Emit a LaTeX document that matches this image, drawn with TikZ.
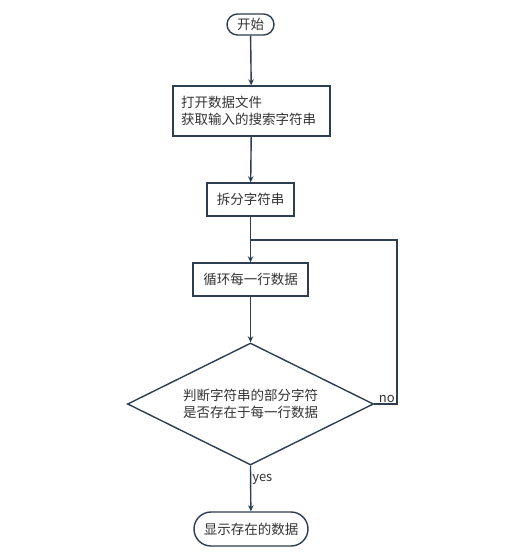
\documentclass[tikz,border=0pt]{standalone}
\usepackage{fontspec}
\setmainfont{Noto Sans CJK SC}
\usetikzlibrary{shapes.geometric,shapes.misc,arrows.meta}
\definecolor{ln}{HTML}{2C3E50}
\definecolor{tx}{HTML}{333333}
\tikzset{
  base/.style={draw=ln, line width=1.4pt, text=tx, font=\fontsize{13.5}{17}\selectfont},
  proc/.style={base, rectangle, inner sep=0pt},
  term/.style={base, rounded rectangle, inner sep=0pt},
  dec/.style={base, diamond, inner sep=0pt},
  txt/.style={text=tx, font=\fontsize{13.5}{17}\selectfont, align=center, inner sep=0pt},
  conn/.style={draw=ln, line width=1.4pt, -{Stealth[length=6pt,width=5.5pt]}},
  plain/.style={draw=ln, line width=1.4pt},
  lbl/.style={text=tx, font=\fontsize{13}{15}\selectfont, inner sep=1pt}
}
\begin{document}
\begin{tikzpicture}[x=1pt,y=-1pt]
\useasboundingbox (0,0) rectangle (511,560);
\node[term, minimum width=47pt, minimum height=21pt] (start) at (250.5,24.5) {开始};
\node[proc, minimum width=157pt, minimum height=50pt, align=left, text width=141pt] (open) at (251.5,111) {打开数据文件\\获取输入的搜索字符串};
\node[proc, minimum width=87pt, minimum height=33pt] (split) at (250.5,199.5) {拆分字符串};
\node[proc, minimum width=115pt, minimum height=33pt] (loop) at (250.5,279.5) {循环每一行数据};
\node[dec, minimum width=246pt, minimum height=122pt] (chk) at (250.5,404) {};
\node[txt] (chkt) at (chk.center) {判断字符串的部分字符\\是否存在于每一行数据};
\node[term, minimum width=114pt, minimum height=34pt] (show) at (251,529) {显示存在的数据};
\coordinate (j) at (250.5,240);
\coordinate (r1) at (397,404);
\coordinate (r2) at (397,240);
\draw[conn] (start) -- (open);
\draw[conn] (open) -- (split);
\draw[conn] (split) -- (loop);
\draw[conn] (loop) -- (chk.north);
\draw[conn] (chk.south) -- node[lbl, right, pos=0.3] {yes} (show);
\draw[plain] (chk.east) -- node[lbl, above, pos=0.55] {no} (r1) -- (r2) -- (j);
\end{tikzpicture}
\end{document}
